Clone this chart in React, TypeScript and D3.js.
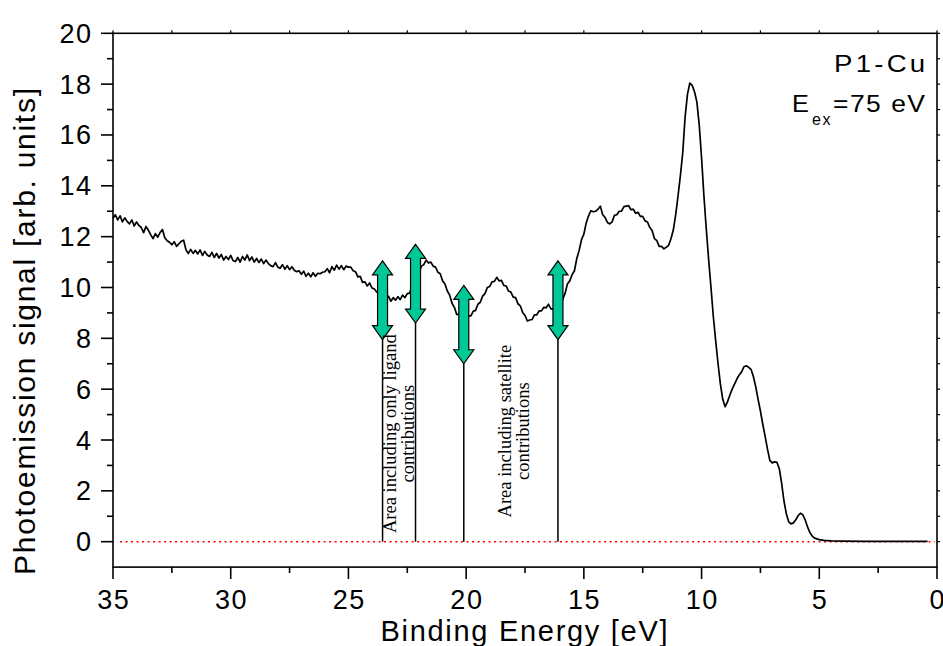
import React from "react";
import * as d3 from "d3";

const energies = [
  35.0, 34.9, 34.8, 34.7, 34.6, 34.5, 34.4, 34.3, 34.2, 34.1, 34.0, 33.9, 33.8, 33.7, 33.6, 33.5, 33.4, 33.3, 33.2, 33.1,
  33.0, 32.9, 32.8, 32.7, 32.6, 32.5, 32.4, 32.3, 32.2, 32.1, 32.0, 31.9, 31.8, 31.7, 31.6, 31.5, 31.4, 31.3, 31.2, 31.1,
  31.0, 30.9, 30.8, 30.7, 30.6, 30.5, 30.4, 30.3, 30.2, 30.1, 30.0, 29.9, 29.8, 29.7, 29.6, 29.5, 29.4, 29.3, 29.2, 29.1,
  29.0, 28.9, 28.8, 28.7, 28.6, 28.5, 28.4, 28.3, 28.2, 28.1, 28.0, 27.9, 27.8, 27.7, 27.6, 27.5, 27.4, 27.3, 27.2, 27.1,
  27.0, 26.9, 26.8, 26.7, 26.6, 26.5, 26.4, 26.3, 26.2, 26.1, 26.0, 25.9, 25.8, 25.7, 25.6, 25.5, 25.4, 25.3, 25.2, 25.1,
  25.0, 24.9, 24.8, 24.7, 24.6, 24.5, 24.4, 24.3, 24.2, 24.1, 24.0, 23.9, 23.8, 23.7, 23.6, 23.5, 23.4, 23.3, 23.2, 23.1,
  23.0, 22.9, 22.8, 22.7, 22.6, 22.5, 22.4, 22.3, 22.2, 22.1, 22.0, 21.9, 21.8, 21.7, 21.6, 21.5, 21.4, 21.3, 21.2, 21.1,
  21.0, 20.9, 20.8, 20.7, 20.6, 20.5, 20.4, 20.3, 20.2, 20.1, 20.0, 19.9, 19.8, 19.7, 19.6, 19.5, 19.4, 19.3, 19.2, 19.1,
  19.0, 18.9, 18.8, 18.7, 18.6, 18.5, 18.4, 18.3, 18.2, 18.1, 18.0, 17.9, 17.8, 17.7, 17.6, 17.5, 17.4, 17.3, 17.2, 17.1,
  17.0, 16.9, 16.8, 16.7, 16.6, 16.5, 16.4, 16.3, 16.2, 16.1, 16.0, 15.9, 15.8, 15.7, 15.6, 15.5, 15.4, 15.3, 15.2, 15.1,
  15.0, 14.9, 14.8, 14.7, 14.6, 14.5, 14.4, 14.3, 14.2, 14.1, 14.0, 13.9, 13.8, 13.7, 13.6, 13.5, 13.4, 13.3, 13.2, 13.1,
  13.0, 12.9, 12.8, 12.7, 12.6, 12.5, 12.4, 12.3, 12.2, 12.1, 12.0, 11.9, 11.8, 11.7, 11.6, 11.5, 11.4, 11.3, 11.2, 11.1,
  11.0, 10.9, 10.8, 10.7, 10.6, 10.5, 10.4, 10.3, 10.2, 10.1, 10.0, 9.9, 9.8, 9.7, 9.6, 9.5, 9.4, 9.3, 9.2, 9.1,
  9.0, 8.9, 8.8, 8.7, 8.6, 8.5, 8.4, 8.3, 8.2, 8.1, 8.0, 7.9, 7.8, 7.7, 7.6, 7.5, 7.4, 7.3, 7.2, 7.1,
  7.0, 6.9, 6.8, 6.7, 6.6, 6.5, 6.4, 6.3, 6.2, 6.1, 6.0, 5.9, 5.8, 5.7, 5.6, 5.5, 5.4, 5.3, 5.2, 5.0,
  4.8, 4.5, 4.0, 3.0, 2.0, 1.0, 0.4,
];

const signal = [
  12.72, 12.86, 12.66, 12.82, 12.58, 12.74, 12.6, 12.5, 12.66, 12.42, 12.58, 12.44, 12.36, 12.16, 12.4, 12.26, 12.08, 11.92, 12.12, 11.98,
  12.16, 12.28, 11.96, 11.84, 11.78, 11.68, 11.8, 11.62, 11.72, 11.82, 11.86, 11.48, 11.34, 11.5, 11.34, 11.46, 11.32, 11.48, 11.26, 11.42,
  11.28, 11.22, 11.38, 11.18, 11.34, 11.16, 11.3, 11.08, 11.22, 11.1, 11.26, 11.06, 11.02, 11.18, 11.0, 11.22, 11.08, 11.28, 11.06, 11.2,
  11.0, 11.14, 10.98, 11.12, 10.94, 11.08, 10.94, 10.86, 10.82, 10.98, 10.8, 10.76, 10.9, 10.72, 10.86, 10.7, 10.82, 10.68, 10.62, 10.66,
  10.52, 10.64, 10.44, 10.56, 10.42, 10.58, 10.44, 10.56, 10.54, 10.6, 10.62, 10.74, 10.58, 10.82, 10.68, 10.88, 10.72, 10.86, 10.7, 10.84,
  10.8, 10.8, 10.66, 10.62, 10.42, 10.44, 10.2, 10.22, 10.06, 10.18, 9.98, 9.94, 9.82, 9.84, 9.68, 9.7, 9.52, 9.66, 9.46, 9.6,
  9.5, 9.64, 9.52, 9.7, 9.6, 9.76, 9.78, 10.04, 10.2, 10.5, 10.58, 10.84, 10.9, 11.08, 10.96, 11.0, 10.84, 10.8, 10.6, 10.54,
  10.26, 10.14, 9.86, 9.7, 9.38, 9.22, 8.94, 8.94, 8.8, 8.84, 8.74, 8.88, 8.88, 9.06, 9.1, 9.34, 9.42, 9.66, 9.76, 10.0,
  10.04, 10.22, 10.24, 10.4, 10.26, 10.28, 10.08, 10.06, 9.86, 9.82, 9.62, 9.6, 9.36, 9.28, 9.02, 8.9, 8.68, 8.72, 8.74, 8.92,
  8.92, 9.08, 9.08, 9.22, 9.2, 9.34, 9.16, 9.16, 9.1, 9.26, 9.2, 9.54, 9.76, 10.14, 10.26, 10.5, 10.66, 11.14, 11.46, 11.88,
  12.1, 12.54, 12.82, 13.02, 12.98, 13.0, 13.08, 13.2, 12.86, 12.76, 12.56, 12.5, 12.58, 12.84, 12.86, 13.0, 13.0, 13.18, 13.2, 13.22,
  13.06, 13.08, 12.92, 12.96, 12.8, 12.8, 12.62, 12.58, 12.36, 12.24, 11.92, 11.84, 11.62, 11.62, 11.52, 11.58, 11.66, 11.92, 12.26, 12.86,
  13.6, 14.4, 15.3, 16.7, 17.6, 18.04, 17.95, 17.7, 17.3, 16.4, 15.1, 13.6, 12.3, 11.1, 10.0, 8.85, 7.9, 7.0, 6.2, 5.6,
  5.31, 5.5, 5.76, 6.0, 6.2, 6.4, 6.56, 6.68, 6.88, 6.92, 6.86, 6.78, 6.5, 6.1, 5.6, 5.14, 4.62, 4.14, 3.64, 3.2,
  3.1, 3.14, 3.12, 2.88, 2.3, 1.6, 1.1, 0.78, 0.7, 0.74, 0.86, 1.02, 1.12, 1.06, 0.86, 0.58, 0.36, 0.22, 0.14, 0.08,
  0.05, 0.03, 0.02, 0.01, 0.01, 0.01, 0.01,
];

const xTicks = [35, 30, 25, 20, 15, 10, 5, 0];
const xMinorTicks = [32.5, 27.5, 22.5, 17.5, 12.5, 7.5, 2.5];
const yTicks = [0, 2, 4, 6, 8, 10, 12, 14, 16, 18, 20];
const yMinorTicks = [1, 3, 5, 7, 9, 11, 13, 15, 17, 19];

const arrowEnergies = [23.55, 22.15, 20.1, 16.1];
const arrowTops = [11.05, 11.7, 10.08, 11.05];
const arrowBottoms = [7.95, 8.6, 7.0, 7.95];

const zeroLineRange = [34.7, 0.1];

const annotations = [
  { lines: ["Area including only ligand", "contributions"], energy: 23.0, value: 4.25 },
  { lines: ["Area including satellite", "contributions"], energy: 18.1, value: 4.35 },
];

const title = "P1-Cu";
const xLabel = "Binding Energy [eV]";
const yLabel = "Photoemission signal [arb. units]";

export default function App() {
  const W = 943;
  const H = 646;
  const x = d3.scaleLinear().domain([35, 0]).range([113, 937]);
  const y = d3.scaleLinear().domain([-1, 20]).range([567.1, 33.3]);

  const pts = energies.map((e, i) => [e, signal[i]] as [number, number]);
  const line = d3
    .line<[number, number]>()
    .x((d) => x(d[0]))
    .y((d) => y(d[1]));

  const sans = "'Liberation Sans', Arial, sans-serif";
  const serif = "'Liberation Serif', 'Times New Roman', serif";

  const arrowPath = (e: number, top: number, bottom: number) => {
    const cx = x(e);
    const yt = y(top);
    const yb = y(bottom);
    const sw = 5;
    const hw = 10;
    const hl = 14;
    return [
      [cx, yt],
      [cx + hw, yt + hl],
      [cx + sw, yt + hl],
      [cx + sw, yb - hl],
      [cx + hw, yb - hl],
      [cx, yb],
      [cx - hw, yb - hl],
      [cx - sw, yb - hl],
      [cx - sw, yt + hl],
      [cx - hw, yt + hl],
    ]
      .map((p) => p.join(","))
      .join(" ");
  };

  return (
    <svg
      width={W}
      height={H}
      style={{ position: "absolute", left: 0, top: 0, background: "#fff" }}
    >
      <rect x={0} y={0} width={W} height={H} fill="#fff" />

      <line
        x1={x(zeroLineRange[0])}
        x2={x(zeroLineRange[1])}
        y1={y(0)}
        y2={y(0)}
        stroke="#ff0000"
        strokeWidth={1.5}
        strokeDasharray="2,3.5"
      />

      {arrowEnergies.map((e, i) => (
        <line
          key={"v" + i}
          x1={x(e)}
          x2={x(e)}
          y1={y(0)}
          y2={y(arrowBottoms[i])}
          stroke="#000"
          strokeWidth={1.5}
        />
      ))}

      <path d={line(pts) || ""} fill="none" stroke="#000" strokeWidth={1.7} strokeLinejoin="round" />

      {arrowEnergies.map((e, i) => (
        <polygon
          key={"a" + i}
          points={arrowPath(e, arrowTops[i], arrowBottoms[i])}
          fill="#00C896"
          stroke="#000"
          strokeWidth={1.2}
        />
      ))}

      {annotations.map((a, i) => (
        <text
          key={"t" + i}
          transform={`translate(${x(a.energy)},${y(a.value)}) rotate(-90)`}
          fontFamily={serif}
          fontSize={18.5}
          textAnchor="middle"
          fill="#000"
        >
          <tspan x={0} dy={0}>{a.lines[0]}</tspan>
          <tspan x={0} dy={18.5}>{a.lines[1]}</tspan>
        </text>
      ))}

      <rect x={113} y={33.3} width={937 - 113} height={567.1 - 33.3} fill="none" stroke="#000" strokeWidth={1.6} />

      {yTicks.map((t) => (
        <g key={"y" + t}>
          <line x1={101} x2={113} y1={y(t)} y2={y(t)} stroke="#000" strokeWidth={1.6} />
          <line x1={937} x2={940} y1={y(t)} y2={y(t)} stroke="#000" strokeWidth={1.2} />
          <text
            x={92.5}
            y={y(t) + 9.5}
            textAnchor="end"
            fontFamily={sans}
            fontSize={27}
            letterSpacing={1.5}
            fill="#000"
          >
            {t}
          </text>
        </g>
      ))}
      {yMinorTicks.map((t) => (
        <g key={"ym" + t}>
          <line x1={107} x2={113} y1={y(t)} y2={y(t)} stroke="#000" strokeWidth={1.6} />
          <line x1={937} x2={940} y1={y(t)} y2={y(t)} stroke="#000" strokeWidth={1.2} />
        </g>
      ))}

      {xTicks.map((t) => (
        <g key={"x" + t}>
          <line x1={x(t)} x2={x(t)} y1={567.1} y2={579} stroke="#000" strokeWidth={1.6} />
          <line x1={x(t)} x2={x(t)} y1={30.3} y2={33.3} stroke="#000" strokeWidth={1.2} />
          <text
            x={x(t) + 0.75}
            y={609}
            textAnchor="middle"
            fontFamily={sans}
            fontSize={27}
            letterSpacing={1.5}
            fill="#000"
          >
            {t}
          </text>
        </g>
      ))}
      {xMinorTicks.map((t) => (
        <g key={"xm" + t}>
          <line x1={x(t)} x2={x(t)} y1={567.1} y2={573} stroke="#000" strokeWidth={1.6} />
          <line x1={x(t)} x2={x(t)} y1={30.3} y2={33.3} stroke="#000" strokeWidth={1.2} />
        </g>
      ))}

      <text
        x={524}
        y={641}
        textAnchor="middle"
        fontFamily={sans}
        fontSize={29}
        textLength={287}
        lengthAdjust="spacing"
        fill="#000"
      >
        {xLabel}
      </text>
      <text
        transform="translate(35,331.5) rotate(-90)"
        textAnchor="middle"
        fontFamily={sans}
        fontSize={30}
        textLength={487}
        lengthAdjust="spacing"
        fill="#000"
      >
        {yLabel}
      </text>

      <text
        transform="translate(834,71.7) scale(1.2,1)"
        fontFamily={sans}
        fontSize={23}
        textLength={76}
        lengthAdjust="spacing"
        fill="#000"
      >
        {title}
      </text>
      <text transform="translate(792,111.7) scale(1.1,1)" fontFamily={sans} fontSize={23} fill="#000">
        E
      </text>
      <text x={812} y={125} fontFamily={sans} fontSize={16} letterSpacing={1.5} fill="#000">
        ex
      </text>
      <text
        transform="translate(833,111.7) scale(1.15,1)"
        fontFamily={sans}
        fontSize={23}
        textLength={80}
        lengthAdjust="spacing"
        fill="#000"
      >
        =75 eV
      </text>
    </svg>
  );
}
